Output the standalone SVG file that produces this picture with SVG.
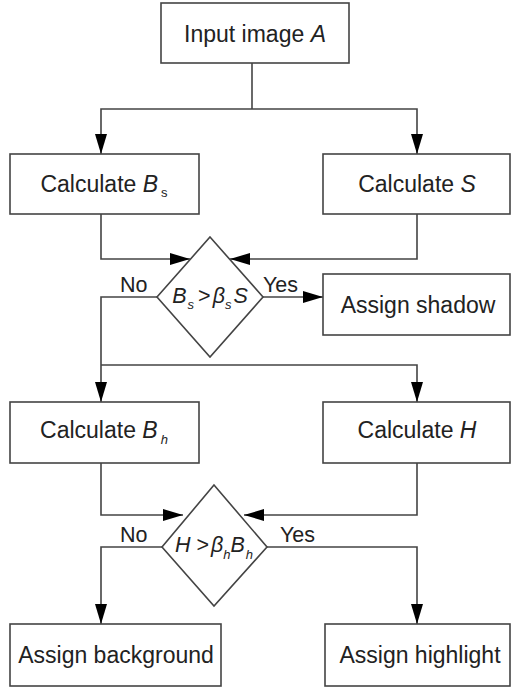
<svg xmlns="http://www.w3.org/2000/svg" width="511" height="689" viewBox="0 0 511 689">
<style>
.box{fill:#fff;stroke:#444;stroke-width:1.6}
.t{font-family:"Liberation Sans",Arial,sans-serif;font-size:23px;fill:#222;text-anchor:middle}
.d{font-family:"Liberation Sans",Arial,sans-serif;font-size:21.5px;fill:#222;text-anchor:middle;font-style:italic}
.lbl{font-family:"Liberation Sans",Arial,sans-serif;font-size:21.5px;fill:#222}
.i{font-style:italic}
.sub{font-size:13px}
.c{fill:none;stroke:#444;stroke-width:1.6}
</style>
<defs>
<marker id="ah" markerUnits="userSpaceOnUse" markerWidth="20" markerHeight="12" refX="20" refY="6" orient="auto">
<path d="M0,0 L20,6 L0,12 z" fill="#000"/>
</marker>
</defs>
<rect width="511" height="689" fill="#fff"/>
<g id="connectors">
<path class="c" d="M252,63 V109"/>
<path class="c" d="M252,109 H101 V154" marker-end="url(#ah)"/>
<path class="c" d="M252,109 H417 V154" marker-end="url(#ah)"/>
<path class="c" d="M101,214 V259 H190" marker-end="url(#ah)"/>
<path class="c" d="M417,214 V259 H230" marker-end="url(#ah)"/>
<path class="c" d="M157,297 H101 V402" marker-end="url(#ah)"/>
<path class="c" d="M101,365 H417 V402" marker-end="url(#ah)"/>
<path class="c" d="M262,297 H323" marker-end="url(#ah)"/>
<path class="c" d="M101,463 V515 H183" marker-end="url(#ah)"/>
<path class="c" d="M417,463 V515 H244" marker-end="url(#ah)"/>
<path class="c" d="M162,547 H101 V624" marker-end="url(#ah)"/>
<path class="c" d="M267,547 H417 V624" marker-end="url(#ah)"/>
<text class="lbl" x="120" y="292">No</text>
<text class="lbl" x="263" y="292">Yes</text>
<text class="lbl" x="120" y="542">No</text>
<text class="lbl" x="280" y="542">Yes</text>
</g>
<g id="input">
<rect class="box" x="161" y="3" width="188" height="60"/>
<text class="t" x="255" y="42">Input image <tspan class="i">A</tspan></text>
</g>
<g id="calcBs">
<rect class="box" x="10" y="154" width="189" height="60"/>
<text class="t" x="104" y="192">Calculate <tspan class="i">B</tspan><tspan class="sub" dx="3" dy="5">s</tspan></text>
</g>
<g id="calcS">
<rect class="box" x="323" y="154" width="187" height="60"/>
<text class="t" x="417" y="192">Calculate <tspan class="i">S</tspan></text>
</g>
<g id="decision1">
<polygon class="box" points="210,237 263,297 210,357 157,297"/>
<text class="d" x="210" y="303">B<tspan class="sub" dx="1" dy="6">s</tspan><tspan dx="4" dy="-6" font-style="normal">&gt;</tspan><tspan dx="2">β</tspan><tspan class="sub" dy="6">s</tspan><tspan dx="2" dy="-6">S</tspan></text>
</g>
<g id="shadow">
<rect class="box" x="323" y="274" width="187" height="61"/>
<text class="t" x="418" y="313">Assign shadow</text>
</g>
<g id="calcBh">
<rect class="box" x="10" y="402" width="189" height="61"/>
<text class="t" x="104" y="438">Calculate <tspan class="i">B</tspan><tspan class="sub i" dx="3" dy="6">h</tspan></text>
</g>
<g id="calcH">
<rect class="box" x="323" y="402" width="187" height="61"/>
<text class="t" x="417" y="438">Calculate <tspan class="i">H</tspan></text>
</g>
<g id="decision2">
<polygon class="box" points="214,485 267,547 214,606 162,547"/>
<text class="d" x="214" y="552">H <tspan font-style="normal">&gt;</tspan><tspan dx="2">β</tspan><tspan class="sub" dy="7">h</tspan><tspan dy="-7">B</tspan><tspan class="sub" dx="1" dy="7">h</tspan></text>
</g>
<g id="background">
<rect class="box" x="10" y="624" width="211" height="62"/>
<text class="t" x="116" y="663">Assign background</text>
</g>
<g id="highlight">
<rect class="box" x="325" y="624" width="185" height="62"/>
<text class="t" x="420" y="663">Assign highlight</text>
</g>
</svg>
